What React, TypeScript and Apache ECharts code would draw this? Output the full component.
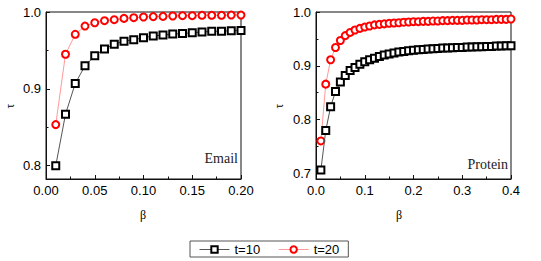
import React, { useEffect, useRef } from "react";
import * as echarts from "echarts";

const betaEmail = [0.01,0.02,0.03,0.04,0.05,0.06,0.07,0.08,0.09,0.10,0.11,0.12,0.13,0.14,0.15,0.16,0.17,0.18,0.19,0.20];
const emailT10 = [0.800,0.867,0.907,0.930,0.943,0.952,0.958,0.962,0.964,0.9665,0.9687,0.970,0.9713,0.972,0.973,0.974,0.9748,0.975,0.9757,0.976];
const emailT20 = [0.8535,0.945,0.971,0.9817,0.986,0.9887,0.990,0.9917,0.9926,0.9935,0.994,0.9943,0.9948,0.9952,0.9952,0.9957,0.9957,0.9957,0.996,0.996];

const betaProtein = [0.01,0.02,0.03,0.04,0.05,0.06,0.07,0.08,0.09,0.10,0.11,0.12,0.13,0.14,0.15,0.16,0.17,0.18,0.19,0.20,0.21,0.22,0.23,0.24,0.25,0.26,0.27,0.28,0.29,0.30,0.31,0.32,0.33,0.34,0.35,0.36,0.37,0.38,0.39,0.40];
const proteinT10 = [0.7062,0.7795,0.824,0.852,0.870,0.882,0.891,0.897,0.903,0.9075,0.911,0.914,0.9174,0.920,0.9217,0.9236,0.9255,0.9267,0.928,0.929,0.9298,0.9304,0.9311,0.9317,0.9323,0.9329,0.9329,0.9335,0.9342,0.9342,0.9348,0.9348,0.9354,0.9354,0.936,0.936,0.9366,0.9366,0.9373,0.9373];
const proteinT20 = [0.7602,0.8658,0.9112,0.934,0.947,0.956,0.962,0.9665,0.9696,0.972,0.974,0.976,0.977,0.978,0.979,0.9795,0.980,0.981,0.9814,0.982,0.982,0.9826,0.9826,0.9832,0.9832,0.9839,0.9839,0.9845,0.9845,0.9845,0.9851,0.9851,0.9851,0.9857,0.9857,0.9857,0.9863,0.9863,0.9863,0.987];

const emailYMajor = [0.8, 0.9, 1.0];
const emailYMinor = [0.85, 0.95];
const proteinYMajor = [0.7, 0.8, 0.9, 1.0];
const proteinYMinor = [0.75, 0.85, 0.95];

const seriesNames = ["t=10", "t=20"];
const panelLabels = ["Email", "Protein"];

const SANS = "'Liberation Sans', Arial, sans-serif";
const SERIF = "'Liberation Serif', 'Times New Roman', serif";

const LINE_BLACK = "#555";
const LINE_RED = "#f99";

function pairs(xs: number[], ys: number[]) {
  return xs.map((x, i) => [x, ys[i]]);
}

export default function App() {
  const ref = useRef<HTMLDivElement>(null);
  useEffect(() => {
    if (!ref.current) return;
    const chart = echarts.init(ref.current, null, { renderer: "svg" });
    const grids = [
      { left: 46, top: 12, width: 195, height: 167 },
      { left: 316, top: 12, width: 195, height: 167 },
    ].map((g) => ({ ...g, show: true, borderColor: "#111", borderWidth: 1, backgroundColor: "transparent", containLabel: false }));

    const xAxisBase = (gi: number, max: number, interval: number, dec: number) => ({
      type: "value",
      gridIndex: gi,
      min: 0,
      max,
      interval,
      axisLine: { show: true, lineStyle: { color: "#111", width: 1 } },
      axisTick: { show: true, inside: true, length: 4, lineStyle: { color: "#111" } },
      minorTick: { show: true, splitNumber: 2, length: 2.5, lineStyle: { color: "#111" } },
      splitLine: { show: false },
      axisLabel: {
        margin: 5,
        fontSize: 13,
        fontFamily: SANS,
        color: "#000",
        formatter: (v: number) => v.toFixed(dec),
      },
    });

    const yAxisMajor = (gi: number, min: number, major: number[]) => ({
      type: "value",
      gridIndex: gi,
      min,
      max: 1.0,
      axisLine: { show: true, lineStyle: { color: "#111", width: 1 } },
      axisTick: { show: true, inside: true, length: 4, customValues: major, lineStyle: { color: "#111" } },
      splitLine: { show: false },
      axisLabel: {
        margin: 5,
        fontSize: 13,
        fontFamily: SANS,
        color: "#000",
        customValues: major,
        formatter: (v: number) => v.toFixed(1),
      },
    });
    const yAxisMinor = (gi: number, min: number, minor: number[]) => ({
      type: "value",
      gridIndex: gi,
      min,
      max: 1.0,
      position: "left",
      axisLine: { show: false },
      axisTick: { show: true, inside: true, length: 2.5, customValues: minor, lineStyle: { color: "#111" } },
      splitLine: { show: false },
      axisLabel: { show: false },
    });

    const mkSeries = (name: string, xi: number, yi: number, data: number[][], black: boolean) => ({
      name,
      type: "line",
      xAxisIndex: xi,
      yAxisIndex: yi,
      data,
      symbol: black ? "emptyRect" : "emptyCircle",
      symbolSize: 7,
      itemStyle: { color: black ? "#000" : "#f00", borderWidth: 1.6 },
      lineStyle: { color: black ? LINE_BLACK : LINE_RED, width: 1 },
      z: black ? 3 : 2,
    });

    chart.setOption({
      animation: false,
      backgroundColor: "#fff",
      grid: grids,
      xAxis: [xAxisBase(0, 0.2, 0.05, 2), xAxisBase(1, 0.4, 0.1, 1)],
      yAxis: [
        yAxisMajor(0, 0.7827, emailYMajor),
        yAxisMinor(0, 0.7827, emailYMinor),
        yAxisMajor(1, 0.6894, proteinYMajor),
        yAxisMinor(1, 0.6894, proteinYMinor),
      ],
      legend: {
        data: [
          { name: seriesNames[0], lineStyle: { color: LINE_BLACK, width: 1 } },
          { name: seriesNames[1], lineStyle: { color: LINE_RED, width: 1 } },
        ],
        left: 190,
        top: 241,
        orient: "horizontal",
        padding: [1, 9, 0, 9],
        itemGap: 18,
        itemWidth: 30,
        itemHeight: 8,
        borderColor: "#555",
        borderWidth: 1,
        borderRadius: 0,
        itemStyle: { borderWidth: 1.5 },
        textStyle: { fontSize: 13, fontFamily: SANS, color: "#000", lineHeight: 15 },
      },
      series: [
        mkSeries(seriesNames[0], 0, 0, pairs(betaEmail, emailT10), true),
        mkSeries(seriesNames[1], 0, 0, pairs(betaEmail, emailT20), false),
        mkSeries(seriesNames[0], 1, 2, pairs(betaProtein, proteinT10), true),
        mkSeries(seriesNames[1], 1, 2, pairs(betaProtein, proteinT20), false),
      ],
      graphic: [
        { type: "text", right: 541 - 238, top: 151, style: { text: panelLabels[0], fontSize: 14, fontFamily: SERIF, fill: "#222" } },
        { type: "text", right: 541 - 508, top: 157, style: { text: panelLabels[1], fontSize: 14, fontFamily: SERIF, fill: "#222" } },
        { type: "text", x: 143, y: 215, style: { text: "β", fontSize: 12, fontFamily: SERIF, fill: "#000", align: "center", verticalAlign: "middle" } },
        { type: "text", x: 399, y: 215, style: { text: "β", fontSize: 12, fontFamily: SERIF, fill: "#000", align: "center", verticalAlign: "middle" } },
        { type: "text", x: 10, y: 106, rotation: Math.PI / 2, style: { text: "τ", fontSize: 12, fontFamily: SERIF, fill: "#000", align: "center", verticalAlign: "middle" } },
        { type: "text", x: 279, y: 106, rotation: Math.PI / 2, style: { text: "τ", fontSize: 12, fontFamily: SERIF, fill: "#000", align: "center", verticalAlign: "middle" } },
      ],
    });
    return () => chart.dispose();
  }, []);
  return <div ref={ref} style={{ position: "fixed", left: 0, top: 0, width: 541, height: 261 }} />;
}
